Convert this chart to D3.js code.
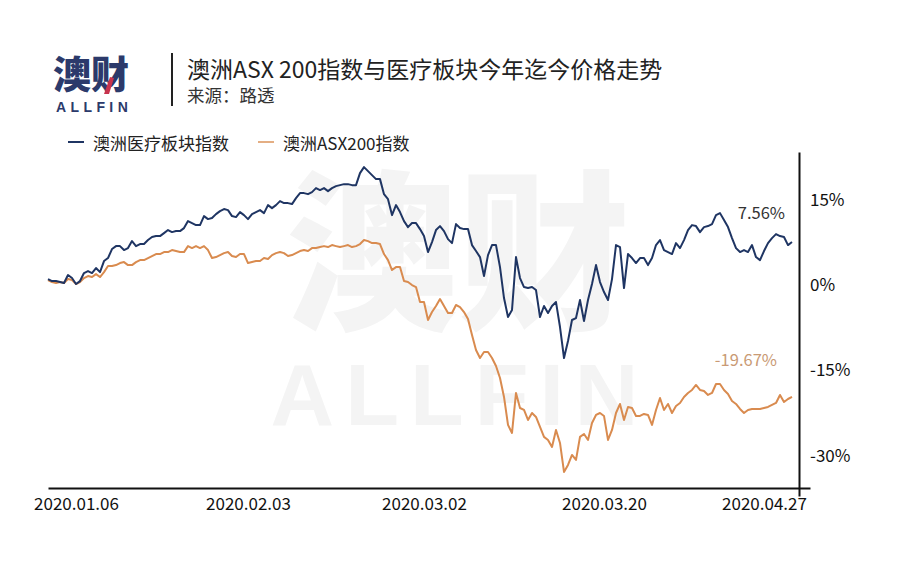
<!DOCTYPE html>
<html>
<head>
<meta charset="utf-8">
<script src="https://cdn.jsdelivr.net/npm/d3@7"></script>
<style>
  html, body { margin: 0; padding: 0; background: #ffffff; }
  svg { display: block; }
  text { font-family: "Noto Sans CJK SC", "Noto Sans", sans-serif; }
</style>
</head>
<body>
<svg id="chart" width="903" height="570"></svg>
<script>
// ---------------- DATA ----------------
const titleText = "澳洲ASX 200指数与医疗板块今年迄今价格走势";
const sourceText = "来源：路透";
const seriesNames = ["澳洲医疗板块指数", "澳洲ASX200指数"];
const dateTickIndex = [7, 50, 94, 139, 179];
const dateTickLabels = ["2020.01.06", "2020.02.03", "2020.03.02", "2020.03.20", "2020.04.27"];
const yTickValues = [15, 0, -15, -30];
const endLabels = ["7.56%", "-19.67%"];

// cumulative % change, healthcare sector index
const healthcare = [
  1.05, 0.70, 0.70, 0.53, 0.35, 1.76, 1.23, 0.18, 0.70, 2.11,
  2.46, 2.11, 2.99, 2.28, 4.22, 4.75, 6.33, 6.85, 6.85, 6.15,
  6.50, 7.73, 6.85, 7.21, 7.21, 7.91, 8.44, 8.61, 8.61, 9.14,
  9.67, 9.31, 9.49, 9.49, 10.02, 11.25, 10.90, 10.54, 10.54, 12.13,
  11.60, 11.78, 12.48, 13.01, 13.36, 13.18, 12.13, 11.95, 12.83, 12.30,
  11.60, 12.48, 12.83, 13.18, 12.65, 14.06, 13.53, 14.06, 14.76, 14.41,
  14.41, 14.24, 15.29, 16.17, 16.17, 15.99, 16.34, 17.05, 16.70, 17.05,
  16.52, 17.05, 17.40, 17.57, 17.75, 17.75, 17.57, 17.57, 19.68, 20.74,
  20.04, 19.33, 18.63, 18.63, 15.99, 15.11, 12.30, 14.06, 12.83, 11.25,
  10.19, 10.90, 10.90, 9.84, 8.61, 5.80, 7.56, 9.67, 10.37, 9.49,
  8.08, 7.38, 10.72, 10.02, 9.84, 9.84, 7.03, 5.98, 4.92, 1.58,
  5.27, 7.03, 7.03, 3.16, -2.28, -5.62, -4.39, 4.92, 1.23, -0.35,
  -0.53, -0.35, -0.88, -5.62, -3.69, -4.92, -3.69, -2.99, -7.38, -12.83,
  -9.84, -6.15, -5.80, -2.64, -6.33, -2.64, 0.18, 3.51, 0.53, -1.23,
  -2.64, 1.05, 7.03, 6.68, -0.53, 5.45, 4.75, 3.87, 4.75, 4.75,
  3.51, 4.75, 7.03, 7.91, 6.15, 5.80, 5.45, 7.38, 6.50, 7.91,
  9.67, 10.54, 10.37, 9.31, 10.19, 10.37, 10.72, 12.30, 12.65, 11.42,
  10.19, 8.26, 6.50, 5.80, 6.15, 5.80, 7.03, 4.92, 4.39, 5.98,
  7.38, 8.26, 8.96, 8.61, 8.44, 7.03, 7.56
];

// cumulative % change, ASX 200 index
const asx200 = [
  0.88, 0.53, 0.35, 0.53, 0.35, 1.05, 0.88, 0.18, 0.53, 1.23,
  1.58, 1.41, 1.93, 1.41, 2.28, 3.34, 3.34, 3.51, 3.87, 4.04,
  3.51, 3.51, 4.04, 4.39, 4.39, 4.75, 5.10, 5.45, 5.45, 5.80,
  5.80, 6.15, 5.98, 5.80, 5.80, 6.85, 6.50, 6.85, 6.50, 6.85,
  6.15, 4.75, 4.92, 5.27, 5.62, 5.80, 5.10, 4.92, 5.45, 5.45,
  3.87, 4.04, 4.22, 4.22, 4.75, 4.57, 5.27, 5.62, 5.80, 5.62,
  5.10, 5.27, 5.62, 5.98, 6.15, 5.98, 6.50, 6.50, 6.68, 6.85,
  6.68, 7.03, 6.85, 6.68, 6.85, 7.03, 6.68, 6.85, 7.21, 7.91,
  7.73, 7.38, 7.38, 7.21, 5.45, 4.39, 2.64, 3.16, 3.16, 0.70,
  0.53, 0.00, -0.35, -2.99, -2.99, -6.15, -4.75, -3.69, -2.46, -3.69,
  -4.92, -4.92, -3.51, -3.87, -4.75, -5.98, -8.79, -11.42, -12.83, -11.78,
  -11.78, -12.83, -14.24, -16.34, -19.68, -24.60, -26.01, -18.98, -21.62, -21.97,
  -23.73, -22.50, -23.20, -24.96, -26.71, -27.24, -28.47, -25.48, -27.77, -32.86,
  -31.63, -29.88, -30.76, -26.71, -26.19, -27.24, -24.25, -22.85, -22.50, -23.02,
  -27.24, -25.48, -22.50, -20.91, -23.73, -21.44, -21.62, -23.02, -23.02, -22.67,
  -22.85, -24.60, -21.97, -19.86, -21.97, -20.91, -22.50, -21.27, -20.74, -19.68,
  -18.98, -18.45, -17.57, -18.45, -18.63, -19.33, -18.98, -17.40, -17.40, -18.45,
  -19.16, -20.39, -20.91, -21.79, -22.50, -21.97, -21.79, -21.79, -21.79, -21.62,
  -21.44, -21.09, -20.74, -19.33, -20.56, -20.04, -19.67
];

const seriesColors = ["#1f3563", "#d98b4f"];

// ---------------- CHART ----------------
const svg = d3.select("#chart");

// watermark
const wm = svg.append("g").attr("class", "watermark");
wm.append("text")
  .attr("x", 458).attr("y", 316)
  .attr("text-anchor", "middle")
  .attr("font-size", 172).attr("font-weight", 900)
  .attr("fill", "#f4f4f4")
  .text("澳财");
wm.append("text")
  .attr("x", 460).attr("y", 425)
  .attr("text-anchor", "middle")
  .style("font-family", "'Liberation Sans', Arial, sans-serif")
  .attr("font-size", 88).attr("font-weight", 700)
  .attr("letter-spacing", 11)
  .attr("fill", "#f4f4f4")
  .text("ALLFIN");

// logo
const logo = svg.append("g").attr("class", "logo");
logo.append("text")
  .attr("x", 53).attr("y", 88)
  .attr("font-size", 38).attr("font-weight", 900)
  .attr("fill", "#2c3a6b")
  .text("澳财");
logo.append("path")
  .attr("d", "M104,94 L110,77 L114,78 L109,94 Z")
  .attr("fill", "#c8344e");
logo.append("text")
  .attr("x", 56).attr("y", 112)
  .style("font-family", "'Liberation Sans', Arial, sans-serif")
  .attr("font-size", 14).attr("font-weight", 700)
  .attr("letter-spacing", 4.4)
  .attr("fill", "#2c3a6b")
  .text("ALLFIN");

// divider
svg.append("line")
  .attr("x1", 172).attr("x2", 172).attr("y1", 53).attr("y2", 106)
  .attr("stroke", "#222").attr("stroke-width", 2);

// title & source
svg.append("text")
  .attr("x", 187).attr("y", 78)
  .attr("font-size", 23).attr("fill", "#222")
  .text(titleText);
svg.append("text")
  .attr("x", 187).attr("y", 102)
  .attr("font-size", 17.5).attr("fill", "#333")
  .text(sourceText);

// legend
const legendX = [68, 258];
const legend = svg.append("g").attr("class", "legend");
seriesNames.forEach((name, i) => {
  const g = legend.append("g").attr("transform", `translate(${legendX[i]},142)`);
  g.append("line").attr("x1", 0).attr("x2", 16).attr("y1", 0).attr("y2", 0)
    .attr("stroke", seriesColors[i]).attr("stroke-width", 2)
    .attr("stroke-opacity", i === 1 ? 0.7 : 1);
  g.append("text").attr("x", 25).attr("y", 0)
    .attr("dominant-baseline", "central")
    .attr("font-size", 17).attr("fill", "#222")
    .text(name);
});

// scales
const x = d3.scaleLinear().domain([0, 190.5]).range([48, 810]);
const y = d3.scaleLinear().domain([-37.1, 23.4]).range([496, 152]);

// x axis
const xAxis = d3.axisBottom(x)
  .tickValues(dateTickIndex)
  .tickFormat((d, i) => dateTickLabels[i])
  .tickSize(0).tickPadding(10);
const gx = svg.append("g").attr("transform", "translate(0,488)").call(xAxis);
gx.select(".domain").attr("stroke", "#111").attr("stroke-width", 2.2);
gx.selectAll(".tick text")
  .attr("font-size", 17).attr("fill", "#111")
  .style("font-family", "'Noto Sans CJK SC', sans-serif");

// y axis (right)
const yAxis = d3.axisRight(y)
  .tickValues(yTickValues)
  .tickFormat(d => d + "%")
  .tickSize(0).tickPadding(11);
const gy = svg.append("g").attr("transform", "translate(799,0)").call(yAxis);
gy.select(".domain").attr("stroke", "#111").attr("stroke-width", 2);
gy.selectAll(".tick text")
  .attr("font-size", 17).attr("fill", "#111")
  .style("font-family", "'Noto Sans CJK SC', sans-serif");

// lines
const line = d3.line().x((d, i) => x(i)).y(d => y(d));
const allSeries = [asx200, healthcare];
const colorsDraw = [seriesColors[1], seriesColors[0]];
allSeries.forEach((s, k) => {
  svg.append("path")
    .datum(s)
    .attr("fill", "none")
    .attr("stroke", colorsDraw[k])
    .attr("stroke-width", 2)
    .attr("stroke-linejoin", "round")
    .attr("d", line);
});

// end labels
const lastIdx = healthcare.length - 1;
svg.append("text")
  .attr("x", x(lastIdx) - 7).attr("y", y(healthcare[lastIdx]) - 30)
  .attr("text-anchor", "end").attr("dominant-baseline", "central")
  .attr("font-size", 16.5).attr("fill", "#333")
  .text(endLabels[0]);
svg.append("text")
  .attr("x", x(lastIdx) - 15).attr("y", y(asx200[lastIdx]) - 38)
  .attr("text-anchor", "end").attr("dominant-baseline", "central")
  .attr("font-size", 16.5).attr("fill", "#c99a74")
  .text(endLabels[1]);
</script>
</body>
</html>
